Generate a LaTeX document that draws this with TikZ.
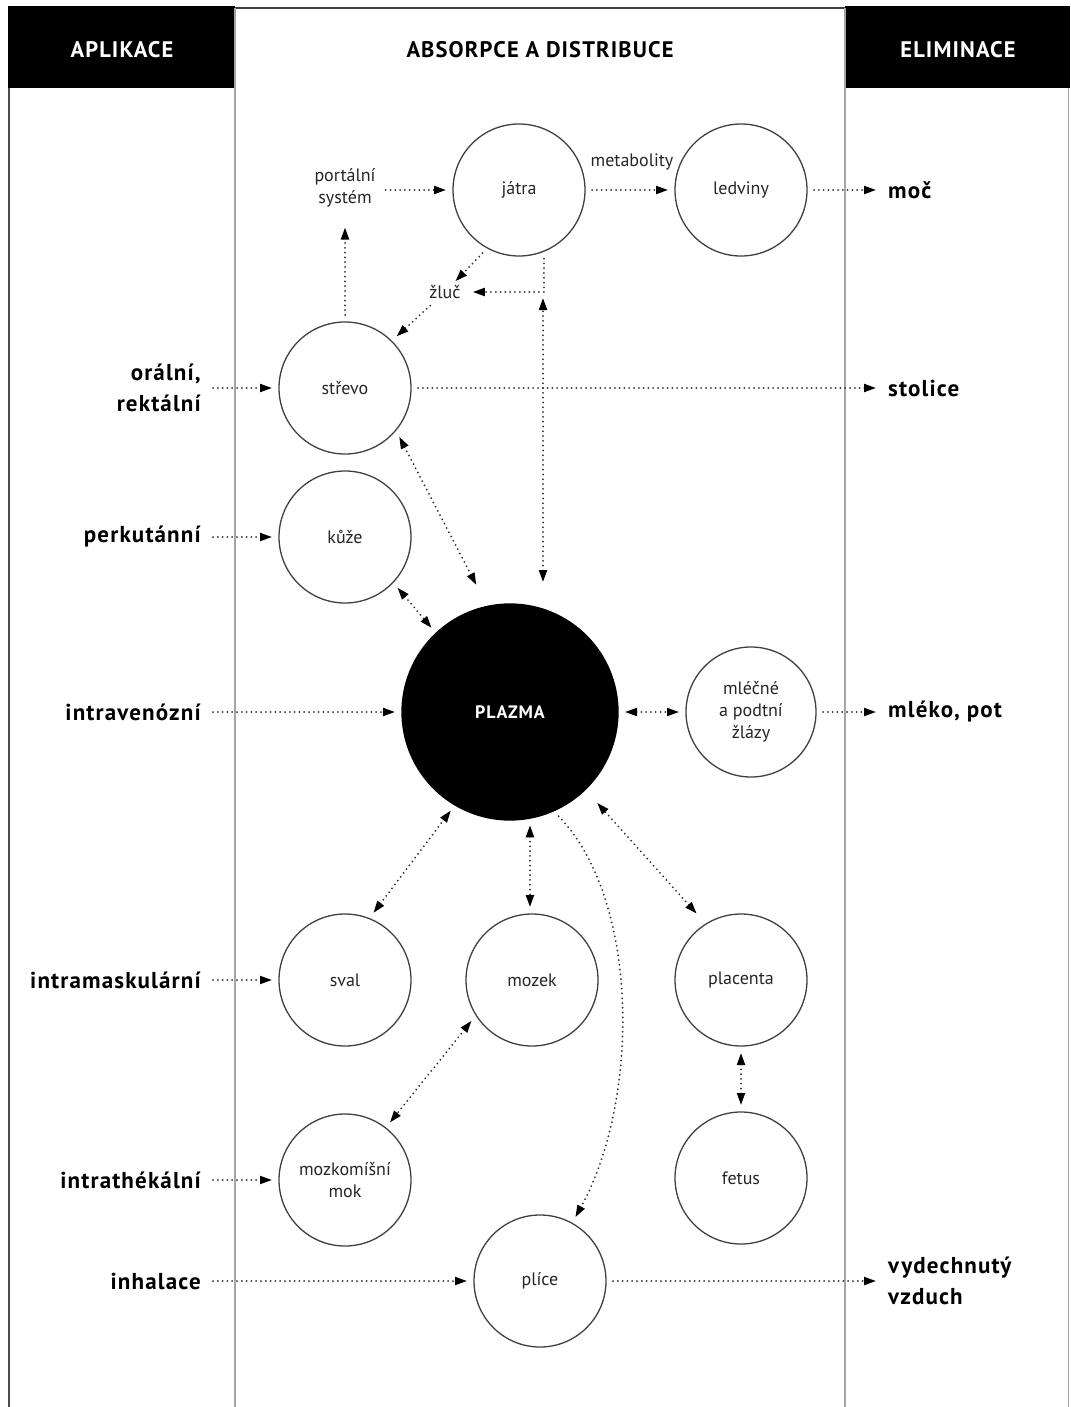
\documentclass[tikz,border=0pt]{standalone}
\usepackage{fontspec}
\setmainfont{PT Sans}
\newfontfamily\spacedfont{PT Sans}[LetterSpace=5]
\usetikzlibrary{arrows.meta,calc}
\begin{document}
\begin{tikzpicture}[x=1pt,y=-1pt,
  organ/.style={circle,draw=black!75,line width=1.3pt,minimum size=132pt,inner sep=0pt,outer sep=7pt,
    font=\fontsize{18}{22}\selectfont,text=black!85,align=center},
  lbl/.style={font=\spacedfont\bfseries\fontsize{23}{31}\selectfont,inner sep=0pt,text=black},
  small/.style={font=\fontsize{18}{22}\selectfont,inner sep=0pt,text=black!85,align=center},
  hdr/.style={font=\spacedfont\bfseries\fontsize{22.5}{26}\selectfont,inner sep=0pt},
  tip/.tip={Triangle[length=12pt,width=8pt,color=black]},
  flow/.style={line width=2pt,black!82,dash pattern=on 0pt off 4.8pt,line cap=round,-tip},
  biflow/.style={flow,tip-tip},
]
\useasboundingbox (0,0) rectangle (1070,1407);
\fill[white] (0,0) rectangle (1070,1407);

% frame and headers
\fill[black] (8,6) rectangle (235,88);
\fill[black] (845,6) rectangle (1070,88);
\draw[black!75,line width=1.2pt] (235,8) -- (845,8);
\draw[black!70,line width=1.5pt] (9,88) -- (9,1407);
\draw[black!35,line width=1.2pt] (235,8) -- (235,1407);
\draw[black!35,line width=1.2pt] (845,8) -- (845,1407);
\draw[black!35,line width=1pt] (1068.5,88) -- (1068.5,1407);

\node[hdr,text=white] (happ) at (122,50) {APLIKACE};
\node[hdr,text=black] (habs) at (540,50) {ABSORPCE A DISTRIBUCE};
\node[hdr,text=white] (helim) at (958,50) {ELIMINACE};

% organs
\node[organ] (jatra) at (519,190) {játra};
\node[organ] (ledviny) at (741,190) {ledviny};
\node[organ] (strevo) at (345,388) {střevo};
\node[organ] (kuze) at (345,537) {kůže};
\node[organ,fill=black,draw=black,minimum size=216pt,text=white,font=\spacedfont\bfseries\fontsize{18}{22}\selectfont] (plazma) at (510,712) {PLAZMA};
\node[organ,minimum size=130pt] (mlecne) at (751,712) {mléčné\\a podtní\\žlázy};
\node[organ] (sval) at (345,980) {sval};
\node[organ] (mozek) at (532,980) {mozek};
\node[organ] (placenta) at (741,980) {placenta};
\node[organ] (mok) at (345,1180) {mozkomíšní\\mok};
\node[organ] (fetus) at (741,1178) {fetus};
\node[organ] (plice) at (540,1281) {plíce};

% small labels
\node[small] (portal) at (345,188) {portální\\systém};
\node[small] (zluc) at (445,292) {žluč};
\node[small] (meta) at (632,162) {metabolity};

% application labels
\node[lbl,anchor=east,align=right] (oral) at (201,388) {orální,\\rektální};
\node[lbl,anchor=east] (perk) at (201,537) {perkutánní};
\node[lbl,anchor=east] (intra) at (201,712) {intravenózní};
\node[lbl,anchor=east] (intram) at (201,980) {intramaskulární};
\node[lbl,anchor=east] (intrat) at (201,1180) {intrathékální};
\node[lbl,anchor=east] (inhal) at (201,1281) {inhalace};

% elimination labels
\node[lbl,anchor=west] (moc) at (888,190) {moč};
\node[lbl,anchor=west] (stolice) at (888,388) {stolice};
\node[lbl,anchor=west] (mleko) at (888,712) {mléko, pot};
\node[lbl,anchor=west,align=left] (vyd) at (888,1281) {vydechnutý\\vzduch};

% application arrows
\draw[flow,shorten <=12pt] (oral.east) -- (strevo);
\draw[flow,shorten <=12pt] (perk.east) -- (kuze);
\draw[flow,shorten <=12pt] (intra.east) -- (plazma);
\draw[flow,shorten <=12pt] (intram.east) -- (sval);
\draw[flow,shorten <=12pt] (intrat.east) -- (mok);
\draw[flow,shorten <=12pt] (inhal.east) -- (plice);

% elimination arrows
\draw[flow,shorten >=12pt] (ledviny) -- (moc.west);
\draw[flow,shorten >=12pt] (strevo) -- (stolice.west);
\draw[flow,shorten >=12pt] (mlecne) -- (mleko.west);
\draw[flow,shorten >=12pt] (plice) -- (vyd.west);

% liver / portal
\draw[flow,shorten <=10pt] (portal.east |- jatra) -- (jatra);
\draw[flow] (jatra) -- (ledviny);
\draw[flow,shorten >=20pt] (strevo.north) -- (portal.south);
\draw[flow,shorten >=15pt] (jatra.-120) -- (zluc.center);
\draw[flow,shorten >=12pt] (jatra.-70) |- (zluc.east);
\draw[flow,shorten <=20pt] (zluc.center) -- (strevo.45);

% plasma exchanges
\coordinate (pjtop) at (543,298);
\coordinate (pjbot) at (543,582);
\draw[biflow] (pjbot) -- (pjtop);
\draw[biflow,shorten >=17pt] (strevo.-42) -- (plazma.103);
\draw[biflow] (kuze.-44) -- (plazma.133);
\draw[biflow] (plazma) -- (mlecne);
\draw[biflow] (sval.67) -- (plazma.-121);
\draw[biflow] (plazma.-80) -- (plazma.-80 |- mozek.north);
\draw[biflow,shorten <=7pt,shorten >=11pt] (placenta.123) -- (plazma.-46);
\draw[biflow] (placenta) -- (fetus);
\draw[biflow] (mozek.-146) -- (mok.52);
\draw[flow] (plazma.-65) .. controls (640,900) and (640,1100) .. (plice.61);
\end{tikzpicture}
\end{document}
